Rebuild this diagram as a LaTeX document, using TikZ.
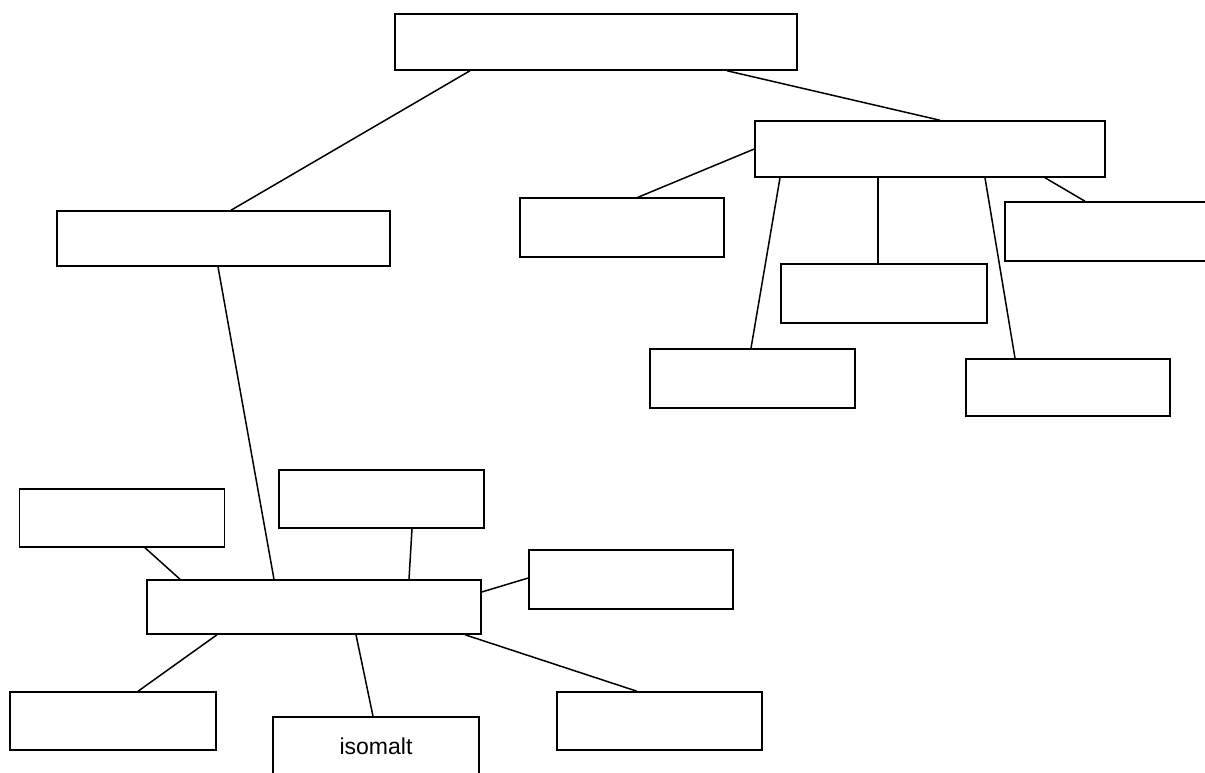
\documentclass[tikz,border=0pt]{standalone}
\usepackage{fontspec}
\setmainfont{Liberation Sans}
\usepackage{tikz}

\begin{document}
\begin{tikzpicture}[x=1pt, y=-1pt,
        box/.style={rectangle, draw=black, line width=1.5pt, fill=white, minimum width=205pt, minimum height=58pt, inner sep=0pt, font=\fontsize{23}{28}\selectfont},
        link/.style={line width=1.5pt}]

        \clip (0,0) rectangle (1205,772);

        \node (top) [box, minimum width=402pt, minimum height=56pt] at (596, 42) {};
        \node (rmid) [box, minimum width=350pt, minimum height=56pt] at (930, 149) {};
        \node (lmid) [box, minimum width=333pt, minimum height=55pt] at (223.5, 238.5) {};
        \node (central) [box, minimum width=334pt, minimum height=54pt] at (314, 607) {};

        \node (rleft) [box, minimum width=204pt, minimum height=59pt] at (622, 227.5) {};
        \node (rcenter) [box, minimum width=206pt, minimum height=59pt] at (884, 293.5) {};
        \node (rright) [box, minimum width=206pt, minimum height=59pt] at (1108, 231.5) {};
        \node (rlowleft) [box, minimum height=59pt] at (752.5, 378.5) {};
        \node (rlowright) [box, minimum width=204pt, minimum height=57pt] at (1068, 387.5) {};

        \node (cupleft) [box] at (122, 518) {};
        \node (cupright) [box] at (381.5, 499) {};
        \node (cside) [box, minimum width=204pt, minimum height=59pt] at (631, 579.5) {};
        \node (cdownleft) [box, minimum width=206pt] at (113, 721) {};
        \node (isomalt) [box, minimum width=206pt] at (376, 746) {isomalt};
        \node (cdownright) [box] at (659.5, 721) {};

        \draw [link] ([xshift=-126pt]top.south) -- ([xshift=7.5pt]lmid.north);
        \draw [link] ([xshift=131pt]top.south) -- ([xshift=10pt]rmid.north);

        \draw [link] (rmid.west) -- ([xshift=16pt]rleft.north);
        \draw [link] ([xshift=-150pt]rmid.south) -- ([xshift=-1.5pt]rlowleft.north);
        \draw [link] ([xshift=-52pt]rmid.south) -- ([xshift=-6pt]rcenter.north);
        \draw [link] ([xshift=55pt]rmid.south) -- ([xshift=-53pt]rlowright.north);
        \draw [link] ([xshift=115pt]rmid.south) -- ([xshift=-23pt]rright.north);

        \draw [link] ([xshift=-5.5pt]lmid.south) -- ([xshift=-40pt]central.north);
        \draw [link] ([xshift=23pt]cupleft.south) -- ([xshift=-134pt]central.north);
        \draw [link] ([xshift=30.5pt]cupright.south) -- ([xshift=95pt]central.north);
        \draw [link] ([yshift=15pt]central.east) -- ([yshift=1.5pt]cside.west);
        \draw [link] ([xshift=-97pt]central.south) -- ([xshift=25pt]cdownleft.north);
        \draw [link] ([xshift=42pt]central.south) -- ([xshift=-3pt]isomalt.north);
        \draw [link] ([xshift=151pt]central.south) -- ([xshift=-22.5pt]cdownright.north);
    \end{tikzpicture}
\end{document}
